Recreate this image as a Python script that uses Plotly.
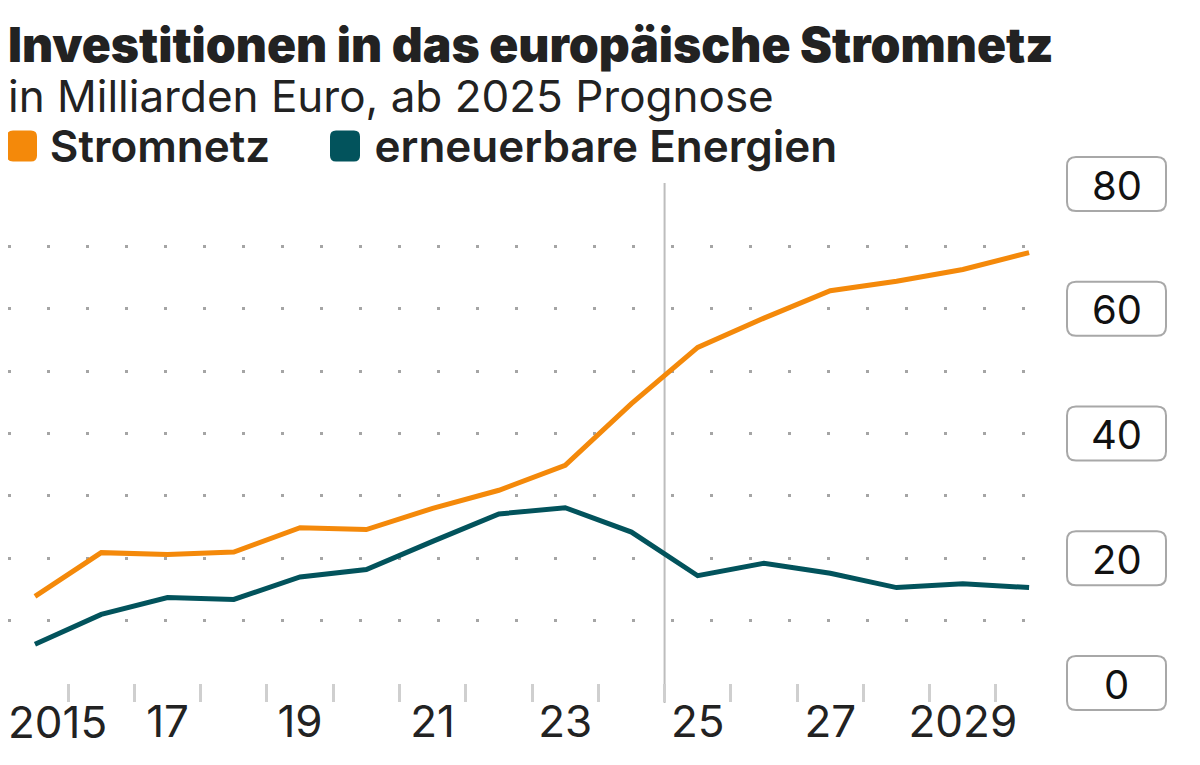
import plotly.graph_objects as go

# ---- data ----
years = list(range(2015, 2031))
stromnetz = [13.9, 20.9, 20.6, 21.0, 24.9, 24.6, 28.0, 30.9, 34.9, 44.8,
             53.8, 58.5, 62.9, 64.4, 66.3, 69.0]
erneuerbare = [6.2, 11.0, 13.7, 13.4, 17.0, 18.2, 22.7, 27.1, 28.1, 24.2,
               17.2, 19.2, 17.6, 15.3, 15.9, 15.3]
x_tick_vals = [2017, 2019, 2021, 2023, 2025, 2027, 2029]
x_tick_text = ["17", "19", "21", "23", "25", "27", "2029"]
first_label = "2015"
boundary_ticks = [y + 0.5 for y in range(2015, 2030)]
y_labels = [0, 20, 40, 60, 80]
grid_vals = [10, 20, 30, 40, 50, 60, 70, 80]
forecast_start = 2024.5

title = "Investitionen in das europäische Stromnetz"
subtitle = "in Milliarden Euro, ab 2025 Prognose"
series_names = ["Stromnetz", "erneuerbare Energien"]

ORANGE = "#F4890A"
TEAL = "#02535C"
TXT = "#222222"
FONT = "Inter"

# figure sized to fit the 1200x765 window inside the default 8px page margin
W, H = 1192, 757
ML, MR, MT, MB = 0, 144, 176, 82
PW = W - ML - MR
PH = H - MT - MB
X_RANGE = [2014.593, 2030.406]
Y_RANGE = [0, 80]


def px2paper_x(px):
    return (px - ML) / PW


def px2paper_y(py):
    return (H - MB - py) / PH


def val2paper_y(v):
    return (v - Y_RANGE[0]) / (Y_RANGE[1] - Y_RANGE[0])


fig = go.Figure()
fig.add_trace(go.Scatter(x=years, y=stromnetz, mode="lines", name=series_names[0],
                         line=dict(color=ORANGE, width=5), showlegend=False))
fig.add_trace(go.Scatter(x=years, y=erneuerbare, mode="lines", name=series_names[1],
                         line=dict(color=TEAL, width=5), showlegend=False))

shapes = []
annotations = []

# forecast separator
shapes.append(dict(type="line", xref="x", yref="paper", x0=forecast_start, x1=forecast_start,
                   y0=px2paper_y(695), y1=px2paper_y(175),
                   line=dict(color="#BDBDBD", width=2), layer="below"))


def rrect(w, h, r):
    hw, hh = w / 2, h / 2
    return (f"M {-hw + r},{-hh} L {hw - r},{-hh} Q {hw},{-hh} {hw},{-hh + r} "
            f"L {hw},{hh - r} Q {hw},{hh} {hw - r},{hh} L {-hw + r},{hh} "
            f"Q {-hw},{hh} {-hw},{hh - r} L {-hw},{-hh + r} Q {-hw},{-hh} {-hw + r},{-hh} Z")


# y labels in rounded boxes
lab_x = px2paper_x(1108.5)
for v in y_labels:
    shapes.append(dict(type="path", xref="paper", yref="paper", xsizemode="pixel", ysizemode="pixel",
                       xanchor=lab_x, yanchor=val2paper_y(v), path=rrect(99, 54, 9),
                       line=dict(color="#A8A8A8", width=2), fillcolor="white"))
    annotations.append(dict(xref="paper", yref="y", x=lab_x, y=v, text=str(v), showarrow=False,
                            xanchor="center", yanchor="middle", yshift=-1,
                            font=dict(family=FONT, size=40, color="#111111")))

# first x label, kept inside the page
annotations.append(dict(xref="paper", yref="paper", x=0, y=px2paper_y(714), text=first_label,
                        showarrow=False, xanchor="left", yanchor="middle", xshift=-2,
                        font=dict(family=FONT, size=44, color=TXT)))

# title + subtitle + legend labels as one left-aligned text block
NB = "&nbsp;"
legend_line = (f"<span style='font-size:49.5px'>{NB * 3}</span>"
               f"<span style='font-size:44px;font-weight:600'>{series_names[0]}{NB * 9}</span>"
               f"<span style='font-size:16px'>{NB}</span>"
               f"<span style='font-size:44px;font-weight:600'>{series_names[1]}</span>")
head = (f"<span style='font-size:48px;font-weight:900'>{title}</span><br>"
        f"<span style='font-size:44px'>{subtitle}</span><br>"
        f"{legend_line}")
annotations.append(dict(xref="paper", yref="paper", x=0, y=px2paper_y(86.5), text=head,
                        showarrow=False, xanchor="left", yanchor="middle", align="left",
                        xshift=-2, font=dict(family=FONT, size=38.5, color=TXT)))

# legend swatches
for col, sx in [(ORANGE, 14), (TEAL, 337)]:
    shapes.append(dict(type="path", xref="paper", yref="paper", xsizemode="pixel", ysizemode="pixel",
                       xanchor=px2paper_x(sx), yanchor=px2paper_y(138), path=rrect(30, 31, 6),
                       line=dict(width=0), fillcolor=col))

fig.update_layout(
    width=W, height=H,
    margin=dict(l=ML, r=MR, t=MT, b=MB, pad=0),
    paper_bgcolor="white", plot_bgcolor="white",
    font=dict(family=FONT, color=TXT),
    showlegend=False,
    shapes=shapes, annotations=annotations,
    xaxis=dict(range=X_RANGE, tickmode="array", tickvals=x_tick_vals,
               ticktext=x_tick_text, ticks="", showgrid=False, zeroline=False, showline=False,
               tickfont=dict(family=FONT, size=44, color=TXT), ticklabelstandoff=9,
               minor=dict(tickmode="array", tickvals=boundary_ticks, ticks="outside",
                          ticklen=18, tickwidth=3, tickcolor="#CFCFCF", showgrid=False),
               fixedrange=True),
    yaxis=dict(range=Y_RANGE, tickmode="array", tickvals=grid_vals, showticklabels=False,
               showgrid=True, gridcolor="#A5A5A5", gridwidth=3, griddash="3px,36px",
               zeroline=False, showline=False, side="right", fixedrange=True),
)

fig.write_html("out.html")
